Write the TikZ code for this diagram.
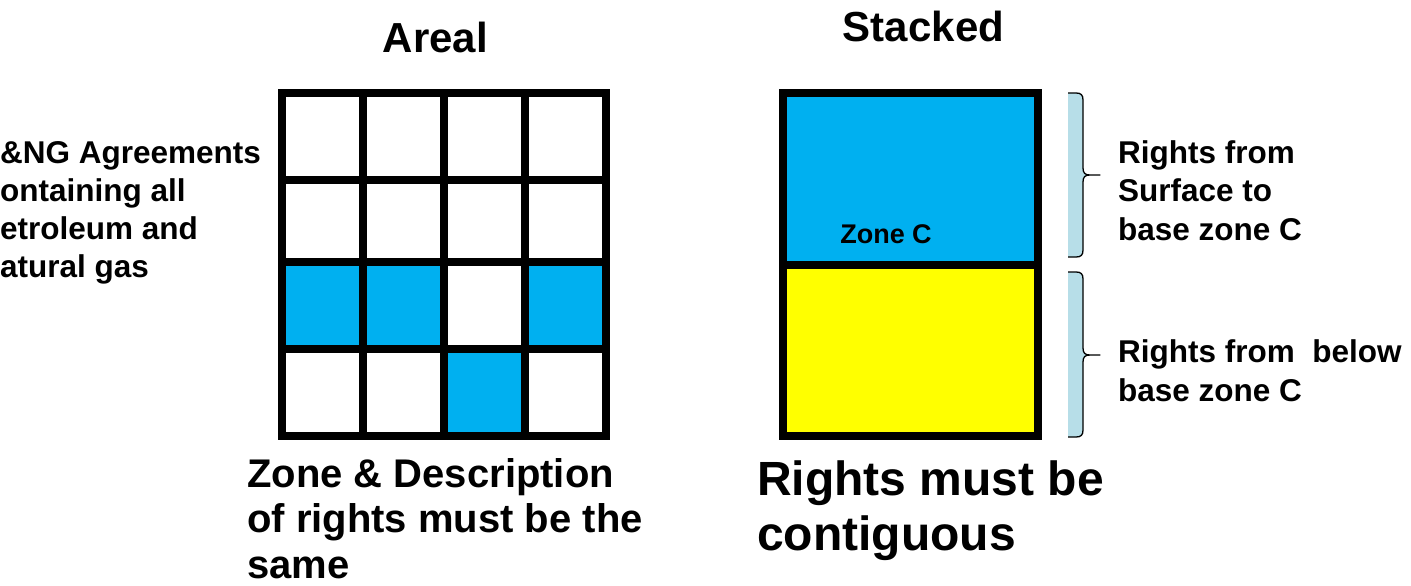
\documentclass[tikz,border=0pt]{standalone}
\usepackage{fontspec}
\setmainfont{Liberation Sans}
\usepackage{xcolor}
\definecolor{zoneblue}{RGB}{0,176,240}
\definecolor{zoneyellow}{RGB}{255,255,0}
\definecolor{bracefill}{RGB}{183,222,232}

\begin{document}
\begin{tikzpicture}[x=1pt, y=-1pt,
    gridline/.style={line width=8pt, line cap=rect},
    bracebox/.style={draw=black, fill=bracefill, line width=1.3pt, line join=round},
    heading/.style={inner sep=0pt, anchor=base, font=\fontsize{42}{44}\selectfont\bfseries},
    sidenote/.style={inner sep=0pt, anchor=base west, align=left, font=\fontsize{31.5}{38.5}\selectfont\bfseries},
    remark/.style={inner sep=0pt, anchor=base west, align=left, font=\fontsize{40}{45.5}\selectfont\bfseries}
]
\fill[white] (0,0) rectangle (1411,586);
\useasboundingbox (0,0) rectangle (1411,586);

% titles
\node[heading] (areal) at (435.5,53) {Areal};
\node[heading] (stacked) at (923.5,42) {Stacked};

% areal grid
\fill[zoneblue] (281.5,262) rectangle (444,349);
\fill[zoneblue] (525,262) rectangle (606,349);
\fill[zoneblue] (444,349) rectangle (525,436);
\foreach \x in {281.5,363,444,525,606}
  \draw[gridline] (\x,93) -- (\x,436);
\foreach \y in {93,179.5,262,349,436}
  \draw[gridline] (281.5,\y) -- (606,\y);

% stacked column
\fill[zoneblue] (783,93) rectangle (1038,264.5);
\fill[zoneyellow] (783,264.5) rectangle (1038,436);
\draw[gridline] (783,93) rectangle (1038,436);
\draw[gridline] (783,264.5) -- (1038,264.5);
\node[inner sep=0pt, anchor=base, font=\fontsize{27}{30}\selectfont\bfseries] (zonec) at (886,243) {Zone C};

% braces
\filldraw[bracebox] (1068,93) -- (1076,93) .. controls (1081,93) and (1083,95) .. (1083,100)
  -- (1083,168) .. controls (1083,173) and (1085,175) .. (1090,175) -- (1100,175) -- (1090,175)
  .. controls (1085,175) and (1083,177) .. (1083,182) -- (1083,250)
  .. controls (1083,255) and (1081,257) .. (1076,257) -- (1068,257);
\filldraw[bracebox] (1068,272) -- (1076,272) .. controls (1081,272) and (1083,274) .. (1083,279)
  -- (1083,348) .. controls (1083,353) and (1085,355) .. (1090,355) -- (1100,355) -- (1090,355)
  .. controls (1085,355) and (1083,357) .. (1083,362) -- (1083,430)
  .. controls (1083,435) and (1081,437) .. (1076,437) -- (1068,437);

% side notes (anchored at the last line)
\node[sidenote, font=\fontsize{31.5}{37.7}\selectfont\bfseries] (agreements) at (0,277)
  {\&NG Agreements\\ontaining all\\etroleum and\\atural gas};
\node[sidenote] (upper) at (1118,240) {Rights from\\Surface to\\base zone C};
\node[sidenote] (lower) at (1118,401) {Rights from\ \ below\\base zone C};

% conclusions
\node[remark] (same) at (247,578) {Zone \& Description\\of rights must be the\\same};
\node[remark, font=\fontsize{48}{55}\selectfont\bfseries] (contiguous) at (757,550)
  {Rights must be\\contiguous};
\end{tikzpicture}
\end{document}
